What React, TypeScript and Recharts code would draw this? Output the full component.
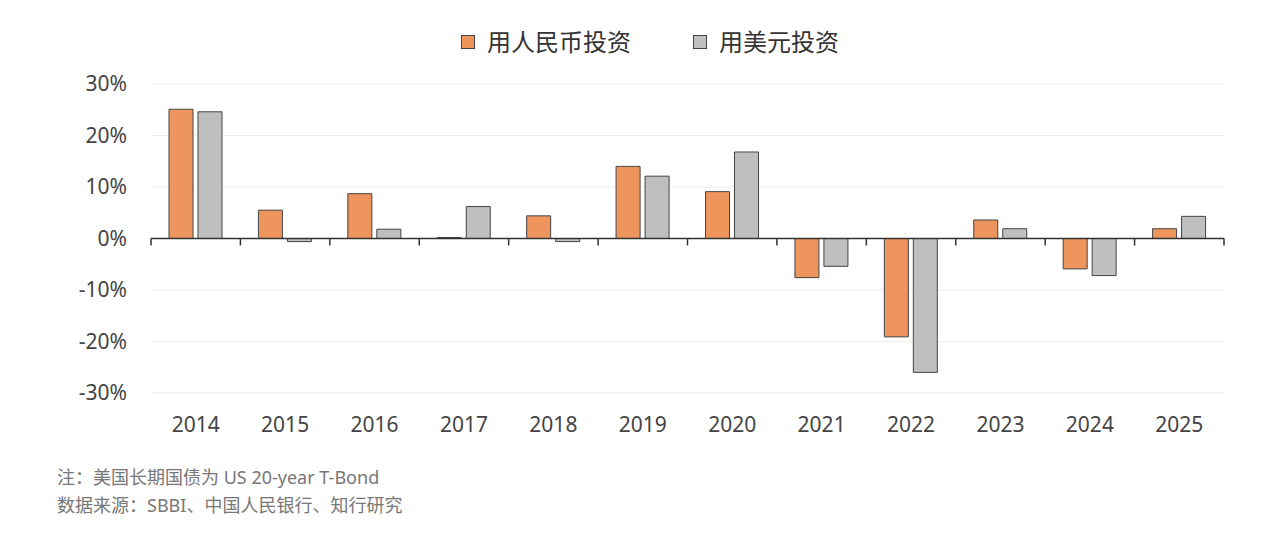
import { Bar, BarChart, CartesianGrid, ReferenceLine, XAxis, YAxis } from 'recharts';

const years = ['2014', '2015', '2016', '2017', '2018', '2019', '2020', '2021', '2022', '2023', '2024', '2025'];
const rmbReturns = [25.1, 5.5, 8.7, 0.2, 4.4, 14.0, 9.1, -7.6, -19.1, 3.6, -5.9, 1.9];
const usdReturns = [24.6, -0.6, 1.8, 6.2, -0.6, 12.1, 16.8, -5.4, -26.0, 1.9, -7.2, 4.3];
const yTicks = [-30, -20, -10, 0, 10, 20, 30];

const RMB_LABEL = '用人民币投资';
const USD_LABEL = '用美元投资';
const RMB_COLOR = '#EE955E';
const USD_COLOR = '#BFBFBF';
const EDGE = '#444';

const FONT = '"Noto Sans", "Noto Sans CJK SC", sans-serif';

const data = years.map((year, i) => ({ year, rmb: rmbReturns[i], usd: usdReturns[i] }));

// zero axis with small ticks between the year groups
function ZeroAxis(props: any) {
  const { x1, y1, x2 } = props;
  const step = (x2 - x1) / years.length;
  const marks = [];
  for (let i = 0; i <= years.length; i++) {
    const x = x1 + i * step;
    marks.push(<line key={i} x1={x} x2={x} y1={y1} y2={y1 + 7} stroke="#333" strokeWidth={1.5} />);
  }
  return (
    <g>
      <line x1={x1} x2={x2} y1={y1} y2={y1} stroke="#333" strokeWidth={1.5} />
      {marks}
    </g>
  );
}

function LegendItem({ color, label }: { color: string; label: string }) {
  return (
    <div style={{ display: 'flex', alignItems: 'center' }}>
      <span
        style={{
          display: 'inline-block',
          width: 14,
          height: 14,
          background: color,
          border: `1px solid ${EDGE}`,
          boxSizing: 'border-box',
          marginRight: 12,
        }}
      />
      <span>{label}</span>
    </div>
  );
}

export default function App() {
  return (
    <div
      style={{
        position: 'absolute',
        top: 0,
        left: 0,
        width: 1280,
        height: 547,
        background: '#fff',
        fontFamily: FONT,
        overflow: 'hidden',
      }}
    >
      <div
        style={{
          position: 'absolute',
          top: 26,
          left: 461,
          display: 'flex',
          gap: 62,
          fontSize: 24,
          lineHeight: '32px',
          color: '#333',
        }}
      >
        <LegendItem color={RMB_COLOR} label={RMB_LABEL} />
        <LegendItem color={USD_COLOR} label={USD_LABEL} />
      </div>

      <BarChart
        width={1280}
        height={460}
        data={data}
        margin={{ top: 84, right: 56, left: 0, bottom: 37 }}
        barSize={24}
        barGap={5}
      >
        <CartesianGrid vertical={false} stroke="#ededed" />
        <XAxis
          dataKey="year"
          axisLine={false}
          tickLine={false}
          tickMargin={18}
          tick={{ fill: '#444', fontSize: 21, fontFamily: FONT }}
        />
        <YAxis
          width={151}
          domain={[-30, 30]}
          ticks={yTicks}
          interval={0}
          axisLine={false}
          tickLine={false}
          tickMargin={18}
          tickFormatter={(v: number) => `${v}%`}
          tick={{ fill: '#444', fontSize: 21, fontFamily: FONT }}
        />
        <Bar dataKey="rmb" name={RMB_LABEL} fill={RMB_COLOR} stroke={EDGE} strokeWidth={1} isAnimationActive={false} />
        <Bar dataKey="usd" name={USD_LABEL} fill={USD_COLOR} stroke={EDGE} strokeWidth={1} isAnimationActive={false} />
        <ReferenceLine y={0} shape={ZeroAxis} />
      </BarChart>

      <div
        style={{
          position: 'absolute',
          left: 57,
          top: 463,
          fontSize: 18,
          lineHeight: '28px',
          color: '#777',
        }}
      >
        <div>注：美国长期国债为 US 20-year T-Bond</div>
        <div>数据来源：SBBI、中国人民银行、知行研究</div>
      </div>
    </div>
  );
}
